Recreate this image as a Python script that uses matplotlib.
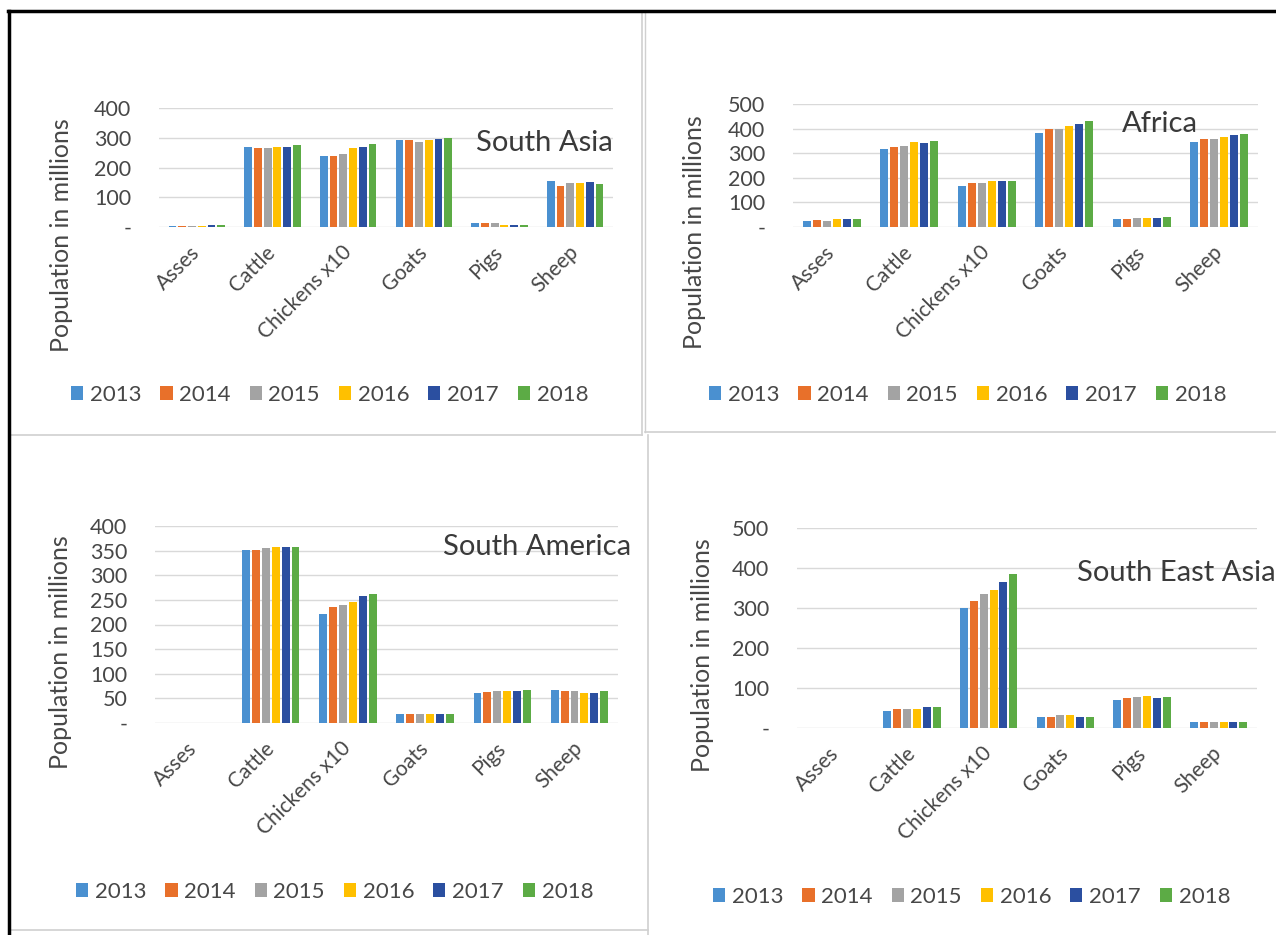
import matplotlib
matplotlib.use('Agg')
import matplotlib.pyplot as plt
import numpy as np
from matplotlib.lines import Line2D

plt.rcParams['font.family'] = ['Lato', 'DejaVu Sans']

W, H = 1276, 935

categories = ['Asses', 'Cattle', 'Chickens x10', 'Goats', 'Pigs', 'Sheep']
years = ['2013', '2014', '2015', '2016', '2017', '2018']
colors = ['#4A90D0', '#E8702A', '#A3A3A3', '#FFC000', '#2B4FA0', '#5CAB45']

# rows = categories, columns = years 2013..2018 (millions)
south_asia = [
    [5, 5, 5, 5, 6, 6],
    [270, 265, 265, 270, 270, 274],
    [237, 239, 247, 264, 270, 279],
    [293, 293, 286, 293, 297, 300],
    [12, 12, 12, 7, 7, 7],
    [154, 137, 149, 149, 151, 146],
]
africa = [
    [24, 27, 24, 31, 31, 31],
    [317, 327, 329, 347, 340, 351],
    [167, 177, 180, 185, 186, 185],
    [384, 397, 399, 411, 419, 431],
    [31, 31, 35, 35, 35, 41],
    [347, 356, 356, 367, 374, 377],
]
south_america = [
    [0, 0, 0, 0, 0, 0],
    [352, 352, 355, 357, 357, 357],
    [222, 235, 240, 246, 257, 261],
    [19, 19, 19, 19, 19, 19],
    [61, 62, 64, 64, 64, 68],
    [68, 65, 64, 61, 61, 64],
]
south_east_asia = [
    [0, 0, 0, 0, 0, 0],
    [43, 48, 48, 48, 52, 52],
    [300, 317, 336, 346, 364, 386],
    [28, 28, 32, 33, 28, 28],
    [71, 75, 77, 79, 74, 77],
    [15, 15, 15, 15, 15, 15],
]

fig = plt.figure(figsize=(W / 100, H / 100), dpi=100)
fig.patch.set_facecolor('white')


def fx(x):
    return x / W


def fy(y):
    return 1 - y / H


TXT = '#474747'


def panel(box, data, ymax, step, title, title_pos, ylab_pos, leg_pos):
    x0, y0, x1, y1 = box
    ax = fig.add_axes([fx(x0), fy(y1), (x1 - x0) / W, (y1 - y0) / H])
    arr = np.array(data, dtype=float)
    xs = np.arange(len(categories))
    group = 0.77
    slot = group / len(years)
    handles = []
    for j, yr in enumerate(years):
        b = ax.bar(xs - group / 2 + slot * (j + 0.5), arr[:, j], slot * 0.8,
                   color=colors[j], zorder=3, label=yr)
        handles.append(b)
    ax.set_xlim(-0.5, 5.5)
    ax.set_ylim(0, ymax)
    ticks = list(range(0, ymax + 1, step))
    ax.set_yticks(ticks)
    ax.set_yticklabels(['-'] + [str(t) for t in ticks[1:]], fontsize=15.5, color=TXT)
    ax.yaxis.grid(True, color='#D9D9D9', lw=1, zorder=0)
    ax.set_axisbelow(True)
    for s in ax.spines.values():
        s.set_visible(False)
    ax.tick_params(axis='y', length=0, pad=20)
    ax.tick_params(axis='x', length=0, pad=16)
    ax.set_xticks(xs)
    ax.set_xticklabels(categories, rotation=45, ha='right', va='center',
                       rotation_mode='anchor', fontsize=15, color=TXT)
    fig.text(fx(title_pos[0]), fy(title_pos[1]), title, ha='left', va='center',
             fontsize=21, color='#3A3A3A')
    fig.text(fx(ylab_pos[0]), fy(ylab_pos[1]), 'Population in millions',
             rotation=90, ha='center', va='center', fontsize=18, color=TXT)
    fig.legend(handles, years, loc='center left',
               bbox_to_anchor=(fx(leg_pos[0]), fy(leg_pos[1])), ncol=6,
               frameon=False, handlelength=0.55, handleheight=0.55,
               handletextpad=0.3, columnspacing=0.85, fontsize=16,
               borderpad=0, borderaxespad=0, labelcolor=TXT)
    return ax


panel((159, 108, 613, 227), south_asia, 400, 100, 'South Asia', (476, 143), (62, 235), (71, 395))
panel((793, 104, 1258, 227), africa, 500, 100, 'Africa', (1122, 124), (695, 232), (709, 395))
panel((155, 526, 618, 723), south_america, 400, 50, 'South America', (443, 547), (61, 652), (76, 892))
panel((797, 528, 1257, 728), south_east_asia, 500, 100, 'South East Asia', (1077, 573), (703, 655), (713, 897))

# panel frames
gray = '#D0D0D0'
lines = [
    ((642, 642), (12, 435), gray, 1.2),
    ((10, 642), (435, 435), gray, 1.2),
    ((645, 645), (12, 432), gray, 1.0),
    ((645, 1276), (432, 432), gray, 1.2),
    ((648, 648), (435, 935), gray, 1.2),
    ((10, 648), (930, 930), gray, 1.2),
    ((8, 1276), (11, 11), 'black', 2.5),
    ((9, 9), (11, 935), 'black', 2.5),
]
for (xa, xb), (ya, yb), c, lw in lines:
    fig.add_artist(Line2D([fx(xa), fx(xb)], [fy(ya), fy(yb)], color=c, lw=lw,
                          transform=fig.transFigure))

fig.savefig('out.png', dpi=100)
